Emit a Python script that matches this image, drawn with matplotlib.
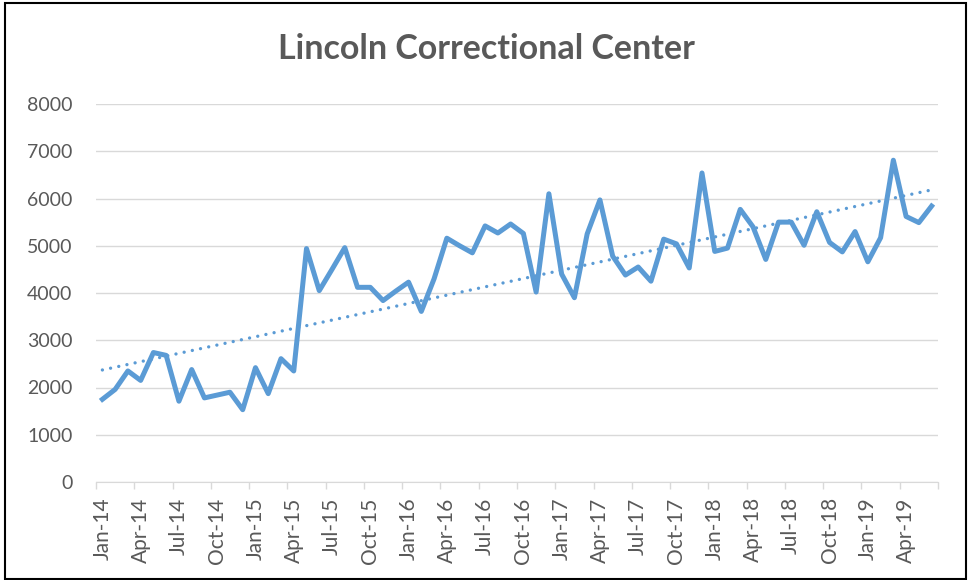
import numpy as np
import pandas as pd
import matplotlib
matplotlib.use("Agg")
import matplotlib.pyplot as plt
from matplotlib.patches import Rectangle

# monthly values Jan-14 .. Jun-19
values = [1750, 1960, 2350, 2150, 2740, 2680, 1710, 2380, 1780, 1840, 1900, 1530,
          2420, 1870, 2610, 2350, 4940, 4050, 4500, 4960, 4120, 4120, 3840, 4040,
          4230, 3610, 4300, 5160, 5000, 4850, 5420, 5270, 5460, 5260, 4020, 6100,
          4400, 3900, 5250, 5970, 4780, 4380, 4550, 4250, 5140, 5040, 4530, 6540,
          4880, 4950, 5770, 5400, 4710, 5500, 5500, 5010, 5720, 5070, 4870, 5300,
          4660, 5170, 6810, 5620, 5490, 5840]
months = pd.date_range("2014-01-01", periods=len(values), freq="MS")
month_labels = [m.strftime("%b-%y") for m in months]
y_ticks = list(range(0, 9000, 1000))

blue = "#5B9BD5"
grey = "#595959"

fig = plt.figure(figsize=(9.69, 5.8), dpi=100)
ax = fig.add_axes([96/969, 98/580, 842/969, 378/580])

x = np.arange(len(values))
ax.plot(x, values, color=blue, lw=3.6, solid_joinstyle="round", zorder=3)

# linear trendline, as Excel adds it
k, b = np.polyfit(x, values, 1)
ax.plot(x, k*x + b, color=blue, lw=2.4, linestyle=(0, (0.01, 2.5)),
        dash_capstyle="round", zorder=2)

ax.set_xlim(-0.5, len(values) - 0.5)
ax.set_ylim(0, 8000)
ax.set_yticks(y_ticks)
ax.set_yticklabels([str(v) for v in y_ticks], color=grey, fontsize=14, family="Lato")
ax.tick_params(axis="y", length=0, pad=17)
ax.grid(axis="y", color="#D9D9D9", lw=1)
ax.set_axisbelow(True)

# labels every 3 months at category centres, ticks at boundaries
ax.set_xticks(x[::3])
ax.set_xticklabels(month_labels[::3], rotation=90, color=grey, fontsize=15, family="Lato")
ax.set_xticks(np.arange(-0.5, len(values), 3), minor=True)
ax.tick_params(axis="x", which="major", length=0, pad=11)
ax.tick_params(axis="x", which="minor", length=5, color="#D9D9D9", width=1)

for s in ["top", "right", "left"]:
    ax.spines[s].set_visible(False)
ax.spines["bottom"].set_color("#D9D9D9")

fig.text(486/969, 1 - 49/580, "Lincoln Correctional Center", ha="center", va="center",
         fontsize=24.5, fontweight="bold", color=grey, family="Lato")

fig.patches.append(Rectangle((5/969, 1/580), 961/969, 576/580, transform=fig.transFigure,
                             fill=False, edgecolor="black", lw=1.5))

fig.savefig("out.png", dpi=100)
